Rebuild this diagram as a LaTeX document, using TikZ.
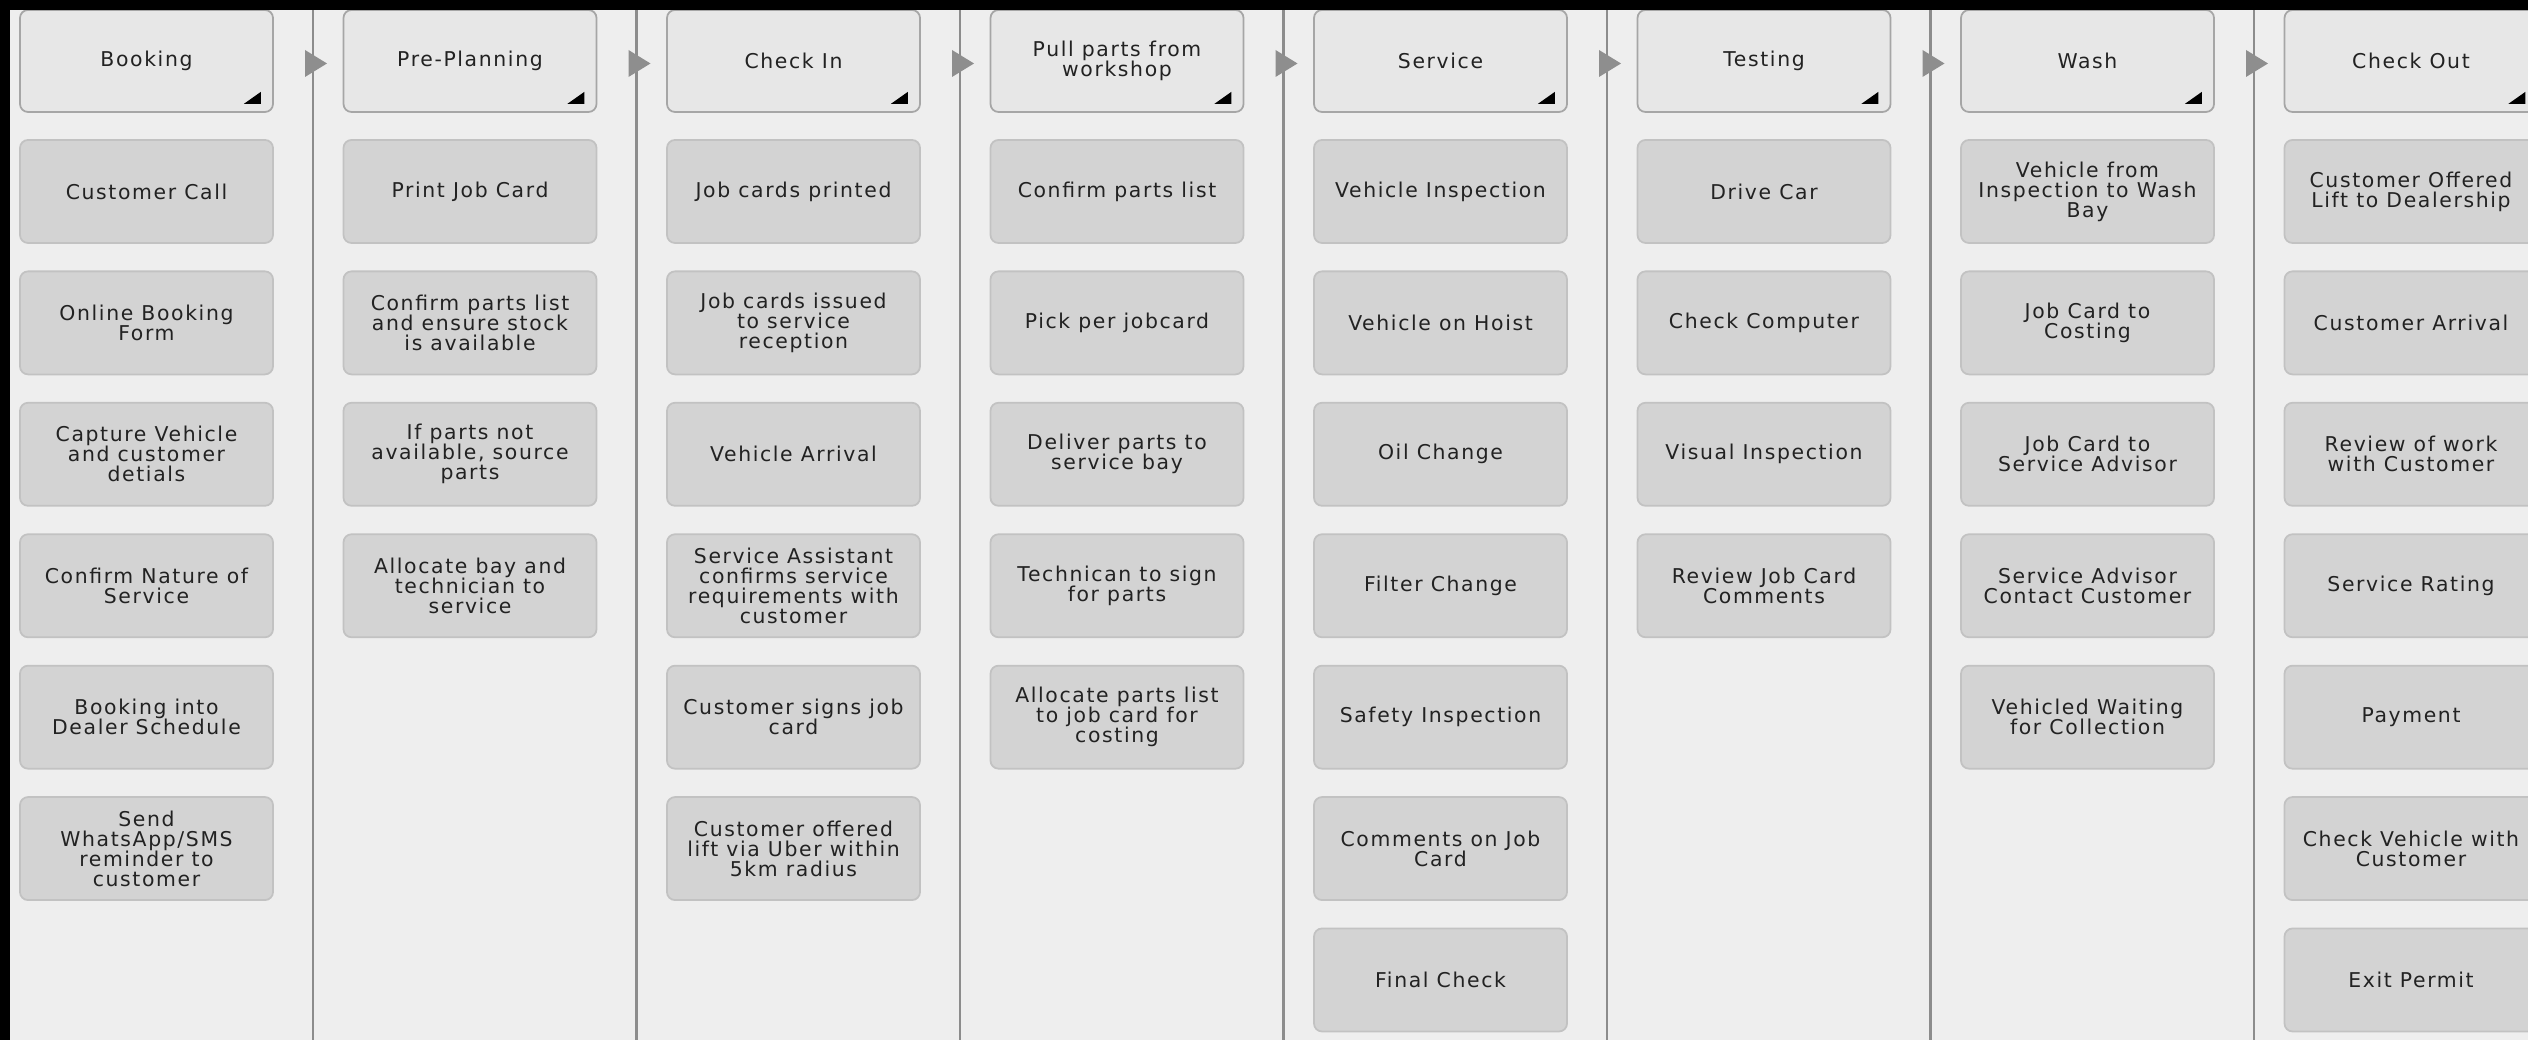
\documentclass[tikz,border=0pt]{standalone}
\usepackage{fontspec}
\setmainfont[LetterSpace=8]{DejaVu Sans}
\usepackage{xcolor}
\usepackage{tikz}
\usetikzlibrary{positioning, backgrounds}
\definecolor{svBack}{HTML}{EEEEEE}
\definecolor{svHead}{HTML}{E7E7E7}
\definecolor{svHeadLine}{HTML}{A6A6A6}
\definecolor{svCard}{HTML}{D3D3D3}
\definecolor{svCardLine}{HTML}{C2C2C2}
\definecolor{svLane}{HTML}{8C8C8C}
\definecolor{svTip}{HTML}{8E8E8E}
\definecolor{svText}{HTML}{222222}

\begin{document}
\begin{tikzpicture}[
  font={\fontsize{5.8}{5.7}\selectfont},
  flowtip/.pic={
    \fill[svTip] (-0.08,-0.135) -- (0.14,0) -- (-0.08,0.135) -- cycle;
  },
  hdrmark/.pic={
    \fill[black] (-0.13,0.09) -- (-0.30,0.09) -- (-0.13,0.21) -- cycle;
  },
  hdr/.style={draw=svHeadLine, fill=svHead, rounded corners=0.08cm, line width=0.5pt,
              align=center, text=svText, inner sep=0pt,
              minimum width=2.53cm, minimum height=1.02cm},
  act/.style={draw=svCardLine, fill=svCard, rounded corners=0.08cm, line width=0.5pt,
              align=center, text=svText, inner sep=0pt,
              minimum width=2.53cm, minimum height=1.03cm},
  lane/.style={draw=svLane, line width=0.6pt},
]
\useasboundingbox (0,0) rectangle (25.28,10.40);
\clip (0,0) rectangle (25.28,10.40);
\fill[svBack] (0,0) rectangle (25.28,10.40);

% ---------------- Swimlane separators ----------------
\draw[lane] (3.13,10.30)   -- (3.13,0);
\draw[lane] (6.365,10.30)  -- (6.365,0);
\draw[lane] (9.60,10.30)   -- (9.60,0);
\draw[lane] (12.835,10.30) -- (12.835,0);
\draw[lane] (16.07,10.30)  -- (16.07,0);
\draw[lane] (19.305,10.30) -- (19.305,0);
\draw[lane] (22.54,10.30)  -- (22.54,0);

% ---------------- Stage headers ----------------
\node[hdr] (bk) at (1.465,9.79)  {Booking};
\node[hdr] (pp) at (4.70,9.79)   {Pre-Planning};
\node[hdr] (ci) at (7.935,9.79)  {Check In};
\node[hdr] (pw) at (11.17,9.79)  {Pull parts from\\workshop};
\node[hdr] (sv) at (14.405,9.79) {Service};
\node[hdr] (ts) at (17.64,9.79)  {Testing};
\node[hdr] (ws) at (20.875,9.79) {Wash};
\node[hdr] (co) at (24.11,9.79)  {Check Out};

\pic at (bk.south east) {hdrmark};
\pic at (pp.south east) {hdrmark};
\pic at (ci.south east) {hdrmark};
\pic at (pw.south east) {hdrmark};
\pic at (sv.south east) {hdrmark};
\pic at (ts.south east) {hdrmark};
\pic at (ws.south east) {hdrmark};
\pic at (co.south east) {hdrmark};

% ---------------- Flow markers between stages ----------------
\pic at (3.13,9.765)   {flowtip};
\pic at (6.365,9.765)  {flowtip};
\pic at (9.60,9.765)   {flowtip};
\pic at (12.835,9.765) {flowtip};
\pic at (16.07,9.765)  {flowtip};
\pic at (19.305,9.765) {flowtip};
\pic at (22.54,9.765)  {flowtip};

% ---------------- Booking ----------------
\node[act] (bk1) at (1.465,8.485) {Customer Call};
\node[act] (bk2) at (1.465,7.171) {Online Booking\\Form};
\node[act] (bk3) at (1.465,5.857) {Capture Vehicle\\and customer\\detials};
\node[act] (bk4) at (1.465,4.542) {Confirm Nature of\\Service};
\node[act] (bk5) at (1.465,3.228) {Booking into\\Dealer Schedule};
\node[act] (bk6) at (1.465,1.914) {Send\\WhatsApp/SMS\\reminder to\\customer};

% ---------------- Pre-Planning ----------------
\node[act] (pp1) at (4.70,8.485) {Print Job Card};
\node[act] (pp2) at (4.70,7.171) {Confirm parts list\\and ensure stock\\is available};
\node[act] (pp3) at (4.70,5.857) {If parts not\\available, source\\parts};
\node[act] (pp4) at (4.70,4.542) {Allocate bay and\\technician to\\service};

% ---------------- Check In ----------------
\node[act] (ci1) at (7.935,8.485) {Job cards printed};
\node[act] (ci2) at (7.935,7.171) {Job cards issued\\to service\\reception};
\node[act] (ci3) at (7.935,5.857) {Vehicle Arrival};
\node[act] (ci4) at (7.935,4.542) {Service Assistant\\confirms service\\requirements with\\customer};
\node[act] (ci5) at (7.935,3.228) {Customer signs job\\card};
\node[act] (ci6) at (7.935,1.914) {Customer offered\\lift via Uber within\\5km radius};

% ---------------- Pull parts from workshop ----------------
\node[act] (pw1) at (11.17,8.485) {Confirm parts list};
\node[act] (pw2) at (11.17,7.171) {Pick per jobcard};
\node[act] (pw3) at (11.17,5.857) {Deliver parts to\\service bay};
\node[act] (pw4) at (11.17,4.542) {Technican to sign\\for parts};
\node[act] (pw5) at (11.17,3.228) {Allocate parts list\\to job card for\\costing};

% ---------------- Service ----------------
\node[act] (sv1) at (14.405,8.485) {Vehicle Inspection};
\node[act] (sv2) at (14.405,7.171) {Vehicle on Hoist};
\node[act] (sv3) at (14.405,5.857) {Oil Change};
\node[act] (sv4) at (14.405,4.542) {Filter Change};
\node[act] (sv5) at (14.405,3.228) {Safety Inspection};
\node[act] (sv6) at (14.405,1.914) {Comments on Job\\Card};
\node[act] (sv7) at (14.405,0.600) {Final Check};

% ---------------- Testing ----------------
\node[act] (ts1) at (17.64,8.485) {Drive Car};
\node[act] (ts2) at (17.64,7.171) {Check Computer};
\node[act] (ts3) at (17.64,5.857) {Visual Inspection};
\node[act] (ts4) at (17.64,4.542) {Review Job Card\\Comments};

% ---------------- Wash ----------------
\node[act] (ws1) at (20.875,8.485) {Vehicle from\\Inspection to Wash\\Bay};
\node[act] (ws2) at (20.875,7.171) {Job Card to\\Costing};
\node[act] (ws3) at (20.875,5.857) {Job Card to\\Service Advisor};
\node[act] (ws4) at (20.875,4.542) {Service Advisor\\Contact Customer};
\node[act] (ws5) at (20.875,3.228) {Vehicled Waiting\\for Collection};

% ---------------- Check Out ----------------
\node[act] (co1) at (24.11,8.485) {Customer Offered\\Lift to Dealership};
\node[act] (co2) at (24.11,7.171) {Customer Arrival};
\node[act] (co3) at (24.11,5.857) {Review of work\\with Customer};
\node[act] (co4) at (24.11,4.542) {Service Rating};
\node[act] (co5) at (24.11,3.228) {Payment};
\node[act] (co6) at (24.11,1.914) {Check Vehicle with\\Customer};
\node[act] (co7) at (24.11,0.600) {Exit Permit};

% ---------------- Frame edges ----------------
\fill[black] (0,10.30) rectangle (25.28,10.40);
\fill[black] (0,0) rectangle (0.10,10.40);
\end{tikzpicture}
\end{document}
